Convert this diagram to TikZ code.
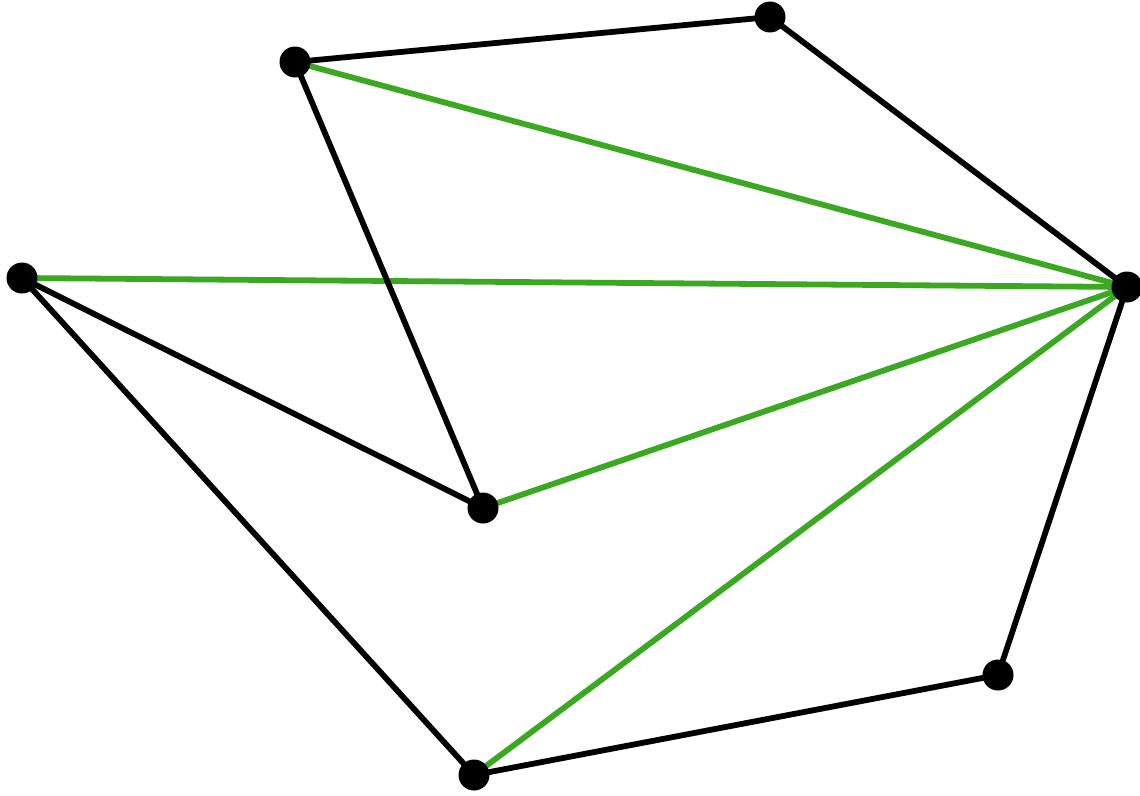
\documentclass[tikz,border=0pt]{standalone}
\usetikzlibrary{backgrounds}
\definecolor{edgegreen}{RGB}{58,168,32}
\begin{document}
\begin{tikzpicture}[x=0.02cm,y=-0.02cm,
  vertex/.style={circle,fill=black,inner sep=0pt,minimum size=0.62cm},
  blk/.style={draw=black,line width=3.3pt},
  grn/.style={draw=edgegreen,line width=3.3pt}]
\useasboundingbox (0,0) rectangle (1140,795);
\node[vertex] (A) at (295,62) {};
\node[vertex] (B) at (770,17) {};
\node[vertex] (C) at (1127,287) {};
\node[vertex] (D) at (22,278) {};
\node[vertex] (E) at (483,508) {};
\node[vertex] (F) at (998,675) {};
\node[vertex] (G) at (474,775) {};
\begin{pgfonlayer}{background}
\draw[grn] (A.center) -- (C.center);
\draw[grn] (D.center) -- (C.center);
\draw[grn] (E.center) -- (C.center);
\draw[grn] (G.center) -- (C.center);
\draw[blk] (A.center) -- (B.center);
\draw[blk] (B.center) -- (C.center);
\draw[blk] (A.center) -- (E.center);
\draw[blk] (D.center) -- (E.center);
\draw[blk] (D.center) -- (G.center);
\draw[blk] (G.center) -- (F.center);
\draw[blk] (F.center) -- (C.center);
\end{pgfonlayer}
\end{tikzpicture}
\end{document}
